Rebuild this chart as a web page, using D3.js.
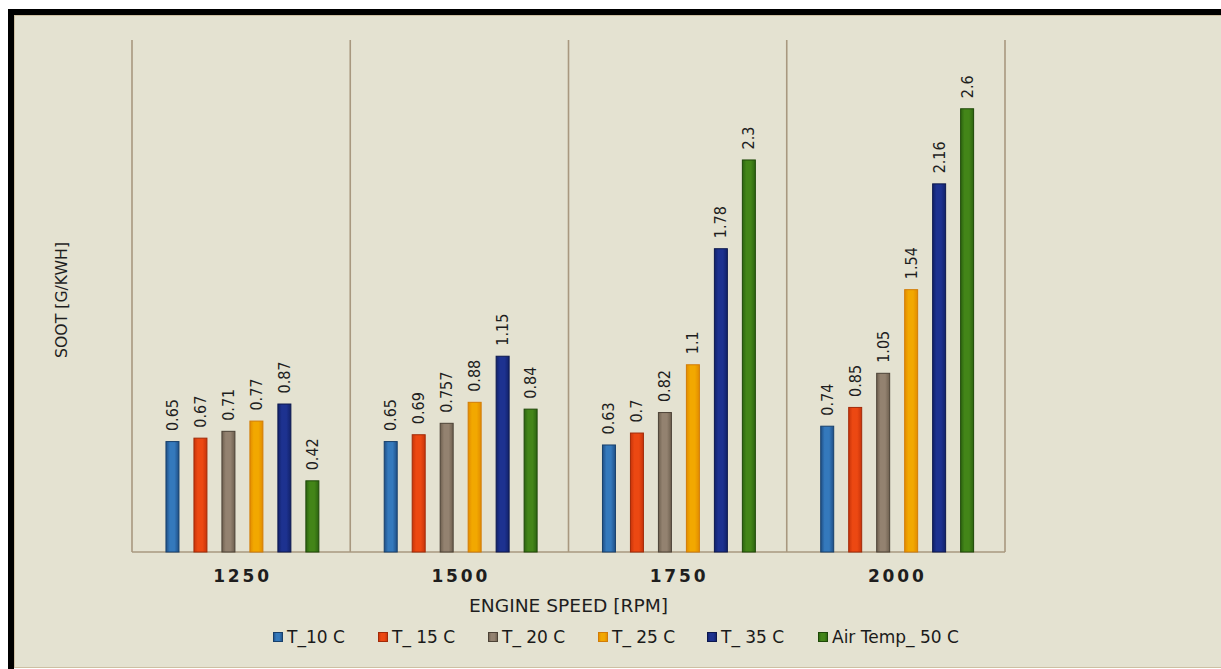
<!DOCTYPE html>
<html>
<head>
<meta charset="utf-8">
<script src="https://cdn.jsdelivr.net/npm/d3@7"></script>
<style>
  html, body { margin: 0; padding: 0; background: #ffffff; }
  svg { display: block; }
</style>
</head>
<body>
<svg id="chart" width="1221" height="669"></svg>
<script>
// ---- data ----
const categories = ["1250", "1500", "1750", "2000"];
const seriesNames = ["T_10 C", "T_ 15 C", "T_ 20 C", "T_ 25 C", "T_ 35 C", "Air Temp_ 50 C"];
const t10 = [0.65, 0.65, 0.63, 0.74];
const t15 = [0.67, 0.69, 0.7, 0.85];
const t20 = [0.71, 0.757, 0.82, 1.05];
const t25 = [0.77, 0.88, 1.1, 1.54];
const t35 = [0.87, 1.15, 1.78, 2.16];
const t50 = [0.42, 0.84, 2.3, 2.6];
const seriesValues = [t10, t15, t20, t25, t35, t50];
const xTitle = "ENGINE SPEED [RPM]";
const yTitle = "SOOT [G/KWH]";

// ---- styles ----
const palette = [
  { mid: "#3479BC", edge: "#1F4F86", stroke: "#17406C" },
  { mid: "#EC4812", edge: "#C8340A", stroke: "#A22A08" },
  { mid: "#938270", edge: "#6E604F", stroke: "#4C4236" },
  { mid: "#F2A800", edge: "#E28C00", stroke: "#D27C06" },
  { mid: "#1D3290", edge: "#12226A", stroke: "#0C184E" },
  { mid: "#438518", edge: "#2C6410", stroke: "#1E4808" }
];

const svg = d3.select("#chart");
const W = 1221, H = 669;
const plot = { left: 132, right: 1005, top: 40, bottom: 552 };

// frame / background
svg.append("rect").attr("x", 0).attr("y", 0).attr("width", W).attr("height", H).attr("fill", "#ffffff");
svg.append("rect").attr("x", 8).attr("y", 9).attr("width", W - 8).attr("height", 6).attr("fill", "#000000");
svg.append("rect").attr("x", 8).attr("y", 9).attr("width", 6).attr("height", H - 9).attr("fill", "#000000");
svg.append("rect").attr("x", 14).attr("y", 15).attr("width", W - 14).attr("height", 653).attr("fill", "#E4E2D1");
svg.append("line").attr("x1", 14).attr("x2", W).attr("y1", 15.5).attr("y2", 15.5).attr("stroke", "#CDBFA2").attr("stroke-width", 1);
svg.append("line").attr("x1", 14.5).attr("x2", 14.5).attr("y1", 15).attr("y2", 668).attr("stroke", "#CDBFA2").attr("stroke-width", 1);
svg.append("line").attr("x1", 14).attr("x2", W).attr("y1", 667.5).attr("y2", 667.5).attr("stroke", "#CDBFA2").attr("stroke-width", 1);

// gradients
const defs = svg.append("defs");
palette.forEach((p, i) => {
  const g = defs.append("linearGradient").attr("id", "grad" + i)
    .attr("x1", "0%").attr("x2", "100%").attr("y1", "0%").attr("y2", "0%");
  g.append("stop").attr("offset", "0%").attr("stop-color", p.edge);
  g.append("stop").attr("offset", "30%").attr("stop-color", p.mid);
  g.append("stop").attr("offset", "65%").attr("stop-color", p.mid);
  g.append("stop").attr("offset", "100%").attr("stop-color", p.edge);
});

// scales
const x0 = d3.scaleBand().domain(categories).range([plot.left, plot.right]).padding(0);
const x1 = d3.scaleBand().domain(seriesNames).range([0, x0.bandwidth()])
  .paddingInner(0.5).paddingOuter(1.15).align(0.52);
const y = d3.scaleLinear().domain([0, 3]).range([plot.bottom, plot.top]);

// grid (category separators) + baseline
const gridColor = "#A8987F";
const bounds = categories.map(c => x0(c)).concat([x0.range()[1]]);
svg.append("g").selectAll("line").data(bounds).join("line")
  .attr("x1", d => d).attr("x2", d => d)
  .attr("y1", y(3)).attr("y2", y(0))
  .attr("stroke", gridColor).attr("stroke-width", 1.6);
svg.append("line").attr("x1", plot.left).attr("x2", plot.right)
  .attr("y1", y(0)).attr("y2", y(0)).attr("stroke", gridColor).attr("stroke-width", 1.6);

// bars
const rows = [];
categories.forEach((c, ci) => {
  seriesNames.forEach((s, si) => rows.push({ c, s, si, v: seriesValues[si][ci] }));
});
const gBars = svg.append("g");
gBars.selectAll("rect").data(rows).join("rect")
  .attr("x", d => x0(d.c) + x1(d.s) + 0.5)
  .attr("y", d => y(d.v) + 0.5)
  .attr("width", x1.bandwidth() - 1)
  .attr("height", d => y(0) - y(d.v) - 0.5)
  .attr("fill", d => "url(#grad" + d.si + ")")
  .attr("stroke", d => palette[d.si].stroke)
  .attr("stroke-width", 1);

// value labels
gBars.selectAll("text").data(rows).join("text")
  .attr("transform", d => {
    const cx = x0(d.c) + x1(d.s) + x1.bandwidth() / 2;
    return "translate(" + cx + "," + (y(d.v) - 10) + ") rotate(-90)";
  })
  .attr("text-anchor", "start")
  .attr("dominant-baseline", "central")
  .attr("font-family", "'DejaVu Sans Condensed', 'Liberation Sans Narrow', sans-serif")
  .attr("font-size", 16)
  .attr("fill", "#1e1e1e")
  .text(d => String(d.v));

// x axis
const xAxis = svg.append("g").attr("transform", "translate(0," + y(0) + ")")
  .call(d3.axisBottom(x0).tickSize(0).tickPadding(0));
xAxis.select(".domain").remove();
xAxis.selectAll("text")
  .attr("y", 24)
  .attr("dy", null)
  .attr("dominant-baseline", "central")
  .attr("font-family", "'DejaVu Sans', sans-serif")
  .attr("font-weight", "bold")
  .attr("font-size", 17)
  .attr("fill", "#1e1e1e")
  .attr("textLength", 56)
  .attr("lengthAdjust", "spacing");

// axis titles
svg.append("text")
  .attr("x", (plot.left + plot.right) / 2).attr("y", 606)
  .attr("text-anchor", "middle").attr("dominant-baseline", "central")
  .attr("font-family", "'DejaVu Sans', sans-serif").attr("font-size", 17)
  .attr("fill", "#1e1e1e")
  .attr("textLength", 199).attr("lengthAdjust", "spacingAndGlyphs")
  .text(xTitle);

svg.append("text")
  .attr("transform", "translate(61.5,300) rotate(-90)")
  .attr("text-anchor", "middle").attr("dominant-baseline", "central")
  .attr("font-family", "'DejaVu Sans', sans-serif").attr("font-size", 15)
  .attr("fill", "#1e1e1e")
  .attr("textLength", 116).attr("lengthAdjust", "spacingAndGlyphs")
  .text(yTitle);

// legend
const legendStarts = [273, 378, 488, 598, 707, 818];
const legend = svg.append("g").attr("transform", "translate(0,637)");
const li = legend.selectAll("g").data(seriesNames).join("g")
  .attr("transform", (d, i) => "translate(" + legendStarts[i] + ",0)");
li.append("rect")
  .attr("x", 0.5).attr("y", -4.5).attr("width", 9).attr("height", 9)
  .attr("fill", (d, i) => "url(#grad" + i + ")")
  .attr("stroke", (d, i) => palette[i].stroke);
li.append("text")
  .attr("x", 14).attr("y", 0)
  .attr("dominant-baseline", "central")
  .attr("font-family", "'DejaVu Sans', sans-serif").attr("font-size", 17)
  .attr("fill", "#1a1a1a")
  .text(d => d);
</script>
</body>
</html>
